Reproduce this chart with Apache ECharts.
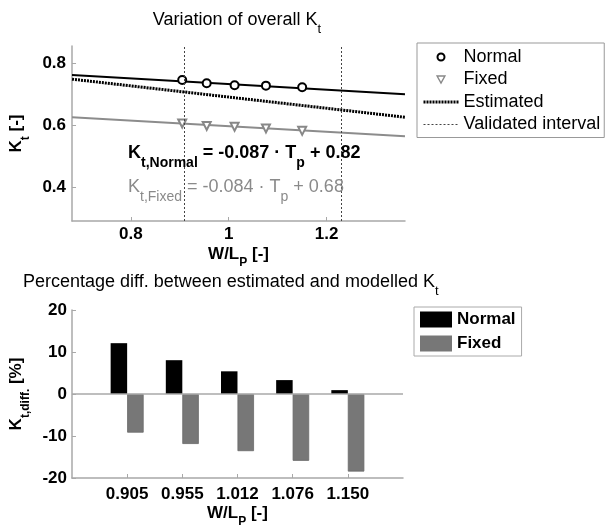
<!DOCTYPE html>
<html><head><meta charset="utf-8">
<script src="https://cdn.jsdelivr.net/npm/echarts@6/dist/echarts.min.js"></script>
<style>html,body{margin:0;padding:0;background:#fff}#c{width:607px;height:529px}</style>
</head><body><div id="c"></div>
<script>
// ---- data ----
const wl = [0.905, 0.955, 1.012, 1.076, 1.150];
const normalKt = [0.745, 0.735, 0.728, 0.727, 0.722];
const fixedKt = [0.605, 0.597, 0.594, 0.589, 0.581];
const lineX = [0.68, 1.36];
const normalFit = [0.761, 0.699];
const fixedFit = [0.625, 0.564];
const estimated = [0.748, 0.625];
const validated = [0.905, 1.232];
const topXTicks = [0.8, 1, 1.2];
const topYTicks = [0.4, 0.6, 0.8];
const wlLabels = ['0.905', '0.955', '1.012', '1.076', '1.150'];
const normalDiff = [12.1, 8.05, 5.4, 3.31, 0.92];
const fixedDiff = [-9.2, -11.9, -13.6, -15.9, -18.46];

// ---- helpers ----
const FF = '"Liberation Sans", Arial, Helvetica, sans-serif';
const AX = '#a8a8a8';
const zip = (xs, ys) => xs.map((x, i) => [x, ys[i]]);
const cats = [''].concat(wlLabels, ['']);
const pad = arr => ['-'].concat(arr, ['-']);

const nameRich = {
  m: { fontSize: 17, fontWeight: 'bold', fontFamily: FF, color: '#000' },
  s: { fontSize: 12, fontWeight: 'bold', fontFamily: FF, color: '#000', padding: [18, 0, 0, 0] }
};

const chart = echarts.init(document.getElementById('c'), null, { renderer: 'canvas' });
chart.setOption({
  animation: false,
  backgroundColor: '#fff',
  textStyle: { fontFamily: FF },
  grid: [
    { left: 69, top: 46, width: 336, height: 175 },
    { left: 70, top: 310, width: 333, height: 174 }
  ],
  xAxis: [
    {
      type: 'value', gridIndex: 0, min: 0.68, max: 1.36,
      axisLine: { show: true, lineStyle: { color: AX, width: 1.5 } },
      axisTick: { show: true, inside: true, length: 4, customValues: topXTicks, lineStyle: { color: AX } },
      axisLabel: { customValues: topXTicks, formatter: v => String(v), fontSize: 17, fontWeight: 'bold', color: '#000', fontFamily: FF, margin: 5 },
      splitLine: { show: false },
      name: '{m|W/L}{s|P}{m| [-]}', nameLocation: 'middle', nameGap: 18,
      nameTextStyle: { rich: nameRich }
    },
    {
      type: 'category', gridIndex: 1, data: cats, boundaryGap: false,
      axisLine: { show: true, onZero: false, lineStyle: { color: AX, width: 1.5 } },
      axisTick: { show: true, inside: true, length: 4, interval: (i) => i > 0 && i < cats.length - 1, lineStyle: { color: AX } },
      axisLabel: { interval: 0, fontSize: 17, fontWeight: 'bold', color: '#000', fontFamily: FF, margin: 8 },
      splitLine: { show: false },
      name: '{m|W/L}{s|P}{m| [-]}', nameLocation: 'middle', nameGap: 20,
      nameTextStyle: { rich: nameRich }
    }
  ],
  yAxis: [
    {
      type: 'value', gridIndex: 0, min: 0.29, max: 0.855,
      axisLine: { show: true, lineStyle: { color: AX, width: 1.5 } },
      axisTick: { show: true, inside: true, length: 4, customValues: topYTicks, lineStyle: { color: AX } },
      axisLabel: { customValues: topYTicks, formatter: v => v.toFixed(1), fontSize: 17, fontWeight: 'bold', color: '#000', fontFamily: FF, margin: 6 },
      splitLine: { show: false },
      name: '{m|K}{s|t}{m| [-]}', nameLocation: 'middle', nameGap: 33, nameRotate: 90,
      nameTextStyle: { rich: nameRich }
    },
    {
      type: 'value', gridIndex: 1, min: -20, max: 20, interval: 10,
      axisLine: { show: true, lineStyle: { color: AX, width: 1.5 } },
      axisTick: { show: true, inside: true, length: 4, lineStyle: { color: AX } },
      axisLabel: { fontSize: 17, fontWeight: 'bold', color: '#000', fontFamily: FF, margin: 5 },
      splitLine: { show: false },
      name: '{m|K}{s|t,diff.}{m| [%]}', nameLocation: 'middle', nameGap: 34, nameRotate: 90,
      nameTextStyle: { rich: nameRich }
    }
  ],
  legend: [
    {
      orient: 'vertical', left: 417, top: 43, selectedMode: false,
      padding: [5, 4, 4, 5], itemWidth: 35, itemHeight: 7, itemGap: 4.5,
      borderColor: '#999', borderWidth: 1,
      textStyle: { fontSize: 18, lineHeight: 18, color: '#000', fontFamily: FF },
      data: [
        { name: 'Normal', icon: 'emptyCircle', itemStyle: { color: '#000', borderColor: '#000', borderWidth: 1.8, opacity: 1 } },
        { name: 'Fixed', icon: 'path://M0,0L10,0L5,9Z', itemStyle: { color: '#fff', borderColor: '#888', borderWidth: 1.4, opacity: 1 } },
        { name: 'Estimated', itemStyle: { opacity: 0 }, lineStyle: { color: '#000', width: 3, type: [2, 1], opacity: 1 } },
        { name: 'Validated interval', itemStyle: { opacity: 0 }, lineStyle: { color: '#444', width: 1, type: [2, 2], opacity: 1 } }
      ]
    },
    {
      orient: 'vertical', left: 414, top: 307, selectedMode: false,
      padding: [4, 6, 4, 6], itemWidth: 32, itemHeight: 16, itemGap: 7,
      borderColor: '#aaa', borderWidth: 1,
      textStyle: { fontSize: 17, fontWeight: 'bold', lineHeight: 17, color: '#000', fontFamily: FF },
      data: [
        { name: 'Normal', icon: 'rect', itemStyle: { color: '#000', borderColor: '#000', borderWidth: 0, opacity: 1 } },
        { name: 'Fixed', icon: 'rect', itemStyle: { color: '#777', borderColor: '#777', borderWidth: 0, opacity: 1 } }
      ]
    }
  ],
  graphic: [
    {
      type: 'text', x: 237, y: 20,
      style: {
        text: '{m|Variation of overall K}{s|t}', align: 'center', verticalAlign: 'middle',
        rich: {
          m: { fontSize: 18, fontFamily: FF, fill: '#000' },
          s: { fontSize: 13, fontFamily: FF, fill: '#000', padding: [18, 0, 0, 0] }
        }
      }
    },
    {
      type: 'text', x: 23, y: 282,
      style: {
        text: '{m|Percentage diff. between estimated and modelled K}{s|t}', align: 'left', verticalAlign: 'middle',
        rich: {
          m: { fontSize: 18, fontFamily: FF, fill: '#000' },
          s: { fontSize: 13, fontFamily: FF, fill: '#000', padding: [18, 0, 0, 0] }
        }
      }
    },
    {
      type: 'text', x: 128, y: 153, z: 100,
      style: {
        text: '{m|K}{s|t,Normal}{m| = -0.087 · T}{s|p}{m| + 0.82}', align: 'left', verticalAlign: 'middle',
        rich: {
          m: { fontSize: 18, fontWeight: 'bold', fontFamily: FF, fill: '#000' },
          s: { fontSize: 14, fontWeight: 'bold', fontFamily: FF, fill: '#000', padding: [20, 0, 0, 0] }
        }
      }
    },
    {
      type: 'text', x: 128, y: 187, z: 100,
      style: {
        text: '{m|K}{s|t,Fixed}{m| = -0.084 · T}{s|p}{m| + 0.68}', align: 'left', verticalAlign: 'middle',
        rich: {
          m: { fontSize: 18, fontFamily: FF, fill: '#8a8a8a' },
          s: { fontSize: 14, fontFamily: FF, fill: '#8a8a8a', padding: [20, 0, 0, 0] }
        }
      }
    }
  ],
  series: [
    {
      type: 'line', name: 'Normal fit', xAxisIndex: 0, yAxisIndex: 0,
      data: zip(lineX, normalFit), symbol: 'none', silent: true,
      lineStyle: { color: '#000', width: 2 }, z: 3
    },
    {
      type: 'line', name: 'Estimated', xAxisIndex: 0, yAxisIndex: 0,
      data: zip(lineX, estimated), symbol: 'none', silent: true,
      lineStyle: { color: '#000', width: 3, type: [2, 1] }, z: 3
    },
    {
      type: 'line', name: 'Fixed fit', xAxisIndex: 0, yAxisIndex: 0,
      data: zip(lineX, fixedFit), symbol: 'none', silent: true,
      lineStyle: { color: '#8c8c8c', width: 2 }, z: 3
    },
    {
      type: 'scatter', name: 'Normal', xAxisIndex: 0, yAxisIndex: 0,
      data: zip(wl, normalKt), symbol: 'emptyCircle', symbolSize: 8, silent: true,
      itemStyle: { color: '#000', borderWidth: 1.8, opacity: 1 }, z: 4
    },
    {
      type: 'scatter', name: 'Fixed', xAxisIndex: 0, yAxisIndex: 0,
      data: zip(wl, fixedKt), symbol: 'emptyTriangle', symbolRotate: 180, symbolSize: 8, silent: true,
      itemStyle: { color: '#888', borderWidth: 1.4, opacity: 1 }, z: 4
    },
    {
      type: 'line', name: 'Validated interval', xAxisIndex: 0, yAxisIndex: 0,
      data: [], symbol: 'none', silent: true,
      lineStyle: { color: '#444', width: 1, type: [2, 2] },
      markLine: {
        symbol: 'none', silent: true, animation: false, label: { show: false },
        lineStyle: { color: '#444', width: 1, type: [2, 2] },
        data: validated.map(v => ({ xAxis: v }))
      }
    },
    {
      type: 'bar', name: 'Normal', xAxisIndex: 1, yAxisIndex: 1,
      data: pad(normalDiff), barWidth: 16.5, barGap: '0%', silent: true,
      itemStyle: { color: '#000' },
      markLine: {
        symbol: 'none', silent: true, label: { show: false },
        lineStyle: { color: AX, width: 1.5, type: 'solid' },
        data: [{ yAxis: 0 }]
      }
    },
    {
      type: 'bar', name: 'Fixed', xAxisIndex: 1, yAxisIndex: 1,
      data: pad(fixedDiff), barWidth: 16.5, barGap: '0%', silent: true,
      itemStyle: { color: '#777', borderColor: '#6a6a6a', borderWidth: 0.8 }
    }
  ]
});
</script>
</body></html>
